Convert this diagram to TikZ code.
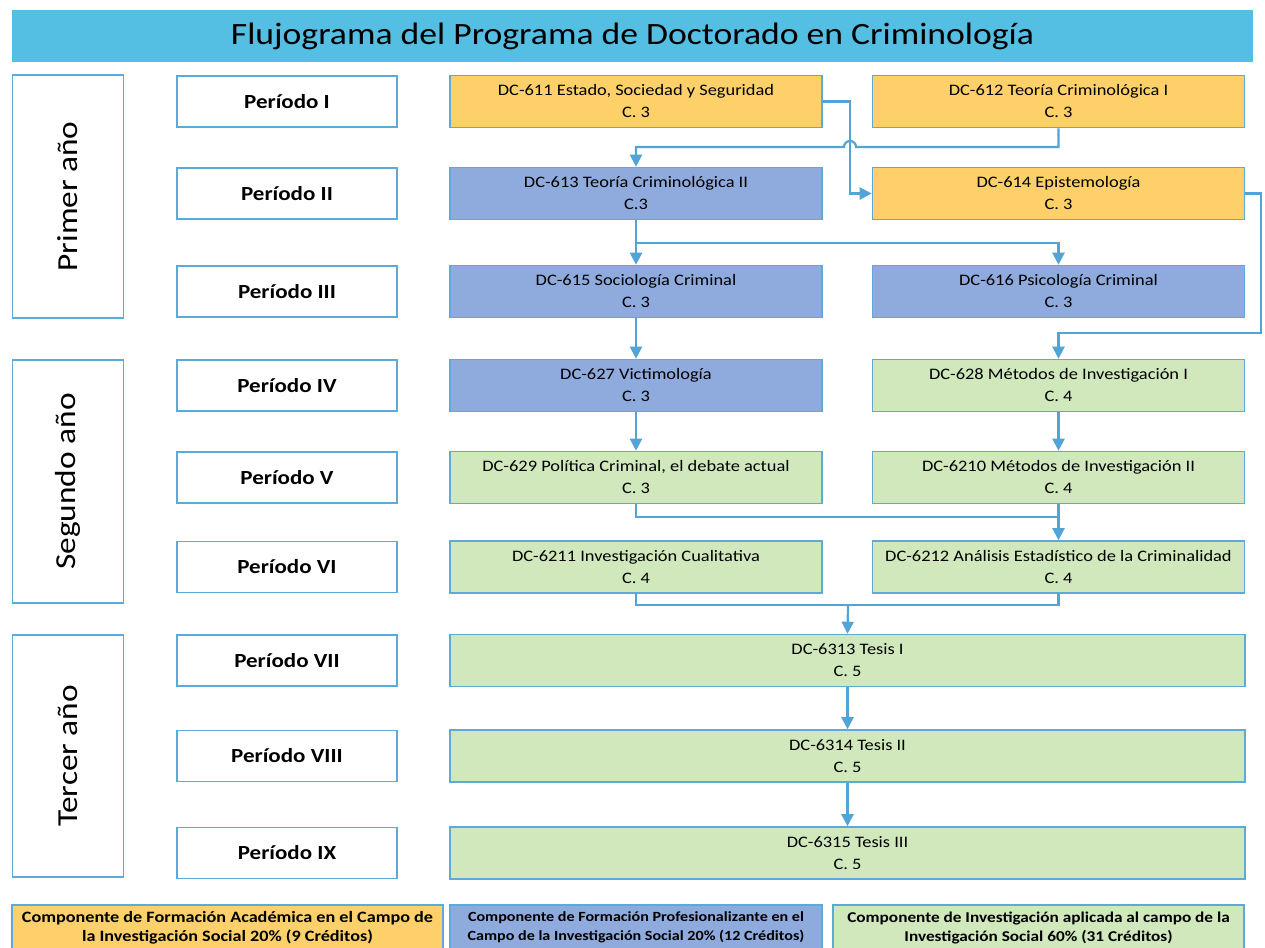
\documentclass[tikz,border=0pt]{standalone}
\usepackage{fontspec}
\setmainfont{Carlito}[FakeStretch=1.15]
\usepackage{tikz}
\usetikzlibrary{arrows.meta,calc,positioning}
\definecolor{FlujoCyan}{HTML}{55BEE3}
\definecolor{FlujoEdge}{HTML}{5BAAD8}
\definecolor{FlujoLine}{HTML}{52A4D6}
\definecolor{FlujoOrange}{HTML}{FDD06A}
\definecolor{FlujoBlue}{HTML}{8FAADC}
\definecolor{FlujoGreen}{HTML}{D0E8BC}
\tikzset{
  >={Triangle[length=12pt,width=12pt]},
  every node/.style = {text=black},
  title bar/.style = {
    fill=FlujoCyan,
    minimum width=1241pt,
    minimum height=52pt,
    font=\fontsize{31}{34}\selectfont
  },
  year box/.style = {
    draw=FlujoEdge,
    line width=1.6pt,
    fill=white,
    rotate=90,
    minimum height=111pt,
    font=\fontsize{29}{32}\selectfont
  },
  period box/.style = {
    draw=FlujoEdge,
    line width=1.6pt,
    fill=white,
    minimum width=220pt,
    minimum height=51pt,
    font=\bfseries\fontsize{20}{22}\selectfont
  },
  course/.style = {
    draw=FlujoEdge,
    line width=1.6pt,
    minimum width=372pt,
    minimum height=52pt,
    align=center,
    inner sep=1pt,
    font=\fontsize{16}{22}\selectfont
  },
  course orange/.style = {course, fill=FlujoOrange},
  course blue/.style = {course, fill=FlujoBlue},
  course green/.style = {course, fill=FlujoGreen},
  course wide/.style = {course green, minimum width=795pt},
  legend box/.style = {
    draw=FlujoEdge,
    line width=1.6pt,
    minimum height=45pt,
    align=center,
    inner sep=1pt,
    font=\bfseries\fontsize{15.8}{19}\selectfont
  },
  link/.style = {->, draw=FlujoLine, line width=2.2pt},
  line/.style = {draw=FlujoLine, line width=2.2pt},
}
\begin{document}
\begin{tikzpicture}[x=1pt,y=-1pt]
  \clip (0,0) rectangle (1265,947);
  \fill[white] (0,0) rectangle (1265,947);

  \node[title bar] (title) at (632.5,36) {\raisebox{-3pt}{Flujograma del Programa de Doctorado en Criminología}};

  \node[year box, minimum width=243pt] (anio1) at (68,196.5) {Primer año};
  \node[year box, minimum width=243pt] (anio2) at (68,481.5) {Segundo año};
  \node[year box, minimum width=242pt] (anio3) at (68,756) {Tercer año};

  \node[period box] (per1) at (287,101.5) {Período I};
  \node[period box] (per2) at (287,193.5) {Período II};
  \node[period box] (per3) at (287,291.5) {Período III};
  \node[period box] (per4) at (287,385.5) {Período IV};
  \node[period box] (per5) at (287,477.5) {Período V};
  \node[period box] (per6) at (287,567) {Período VI};
  \node[period box] (per7) at (287,660.5) {Período VII};
  \node[period box] (per8) at (287,756) {Período VIII};
  \node[period box] (per9) at (287,853) {Período IX};

  \node[course orange] (dc611) at (636,101.5) {DC-611 Estado, Sociedad y Seguridad\\C. 3};
  \node[course orange] (dc612) at (1058.5,101.5) {DC-612 Teoría Criminológica I\\C. 3};
  \node[course blue] (dc613) at (636,193.5) {DC-613 Teoría Criminológica II\\C.3};
  \node[course orange] (dc614) at (1058.5,193.5) {DC-614 Epistemología\\C. 3};
  \node[course blue] (dc615) at (636,291.5) {DC-615 Sociología Criminal\\C. 3};
  \node[course blue] (dc616) at (1058.5,291.5) {DC-616 Psicología Criminal\\C. 3};
  \node[course blue] (dc627) at (636,385.5) {DC-627 Victimología\\C. 3};
  \node[course green] (dc628) at (1058.5,385.5) {DC-628 Métodos de Investigación I\\C. 4};
  \node[course green] (dc629) at (636,477.5) {DC-629 Política Criminal, el debate actual\\C. 3};
  \node[course green] (dc6210) at (1058.5,477.5) {DC-6210 Métodos de Investigación II\\C. 4};
  \node[course green] (dc6211) at (636,567) {DC-6211 Investigación Cualitativa\\C. 4};
  \node[course green] (dc6212) at (1058.5,567) {DC-6212 Análisis Estadístico de la Criminalidad\\C. 4};
  \node[course wide] (tesis1) at (847.5,660.5) {DC-6313 Tesis I\\C. 5};
  \node[course wide] (tesis2) at (847.5,756) {DC-6314 Tesis II\\C. 5};
  \node[course wide] (tesis3) at (847.5,853) {DC-6315 Tesis III\\C. 5};

  \node[legend box, fill=FlujoOrange, minimum width=431pt] (leg1) at (227.5,927.5)
    {Componente de Formación Académica en el Campo de\\la Investigación Social 20\% (9 Créditos)};
  \node[legend box, fill=FlujoBlue, minimum width=372pt, font=\bfseries\fontsize{14}{19}\selectfont] (leg2) at (636,927.5)
    {Componente de Formación Profesionalizante en el\\Campo de la Investigación Social 20\% (12 Créditos)};
  \node[legend box, fill=FlujoGreen, minimum width=411pt, font=\bfseries\fontsize{15}{19}\selectfont] (leg3) at (1038.5,927.5)
    {Componente de Investigación aplicada al campo de la\\Investigación Social 60\% (31 Créditos)};

  \coordinate (bend611) at (850,101.5);
  \coordinate (hop) at (850,147);
  \coordinate (split613) at (636,243);
  \coordinate (loop614) at (1261,333);
  \coordinate (join629) at (1058,517);
  \coordinate (merge6) at (848,605);

  \draw[link] (dc611.east) -- (bend611) |- (dc614.west);
  \draw[link] (dc612.south) |- ($(hop)+(6,0)$) arc[start angle=0, end angle=180, radius=6pt] -| (dc613.north);
  \draw[link] (dc613.south) -- (dc615.north);
  \draw[link] (split613) -| (dc616.north);
  \draw[link] (dc614.east) -| (loop614) -| (dc628.north);
  \draw[link] (dc615.south) -- (dc627.north);
  \draw[link] (dc627.south) -- (dc629.north);
  \draw[link] (dc628.south) -- (dc6210.north);
  \draw[line] (dc629.south) |- (join629);
  \draw[link] (dc6210.south) -- (dc6212.north);
  \draw[line] (dc6211.south) |- (merge6) -| (dc6212.south);
  \draw[link] (merge6) -- (tesis1.north);
  \draw[link] (tesis1.south) -- (tesis2.north);
  \draw[link] (tesis2.south) -- (tesis3.north);
\end{tikzpicture}
\end{document}
